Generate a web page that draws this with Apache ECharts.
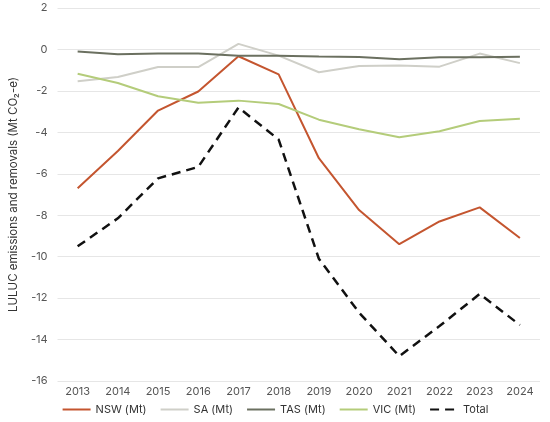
<!DOCTYPE html>
<html>
<head>
<meta charset="utf-8">
<script src="https://cdn.jsdelivr.net/npm/echarts@6/dist/echarts.min.js"></script>
<style>
  html, body { margin: 0; padding: 0; background: #fff; }
  #chart { width: 550px; height: 422px; }
</style>
</head>
<body>
<div id="chart"></div>
<script>
var years = ['2013', '2014', '2015', '2016', '2017', '2018', '2019', '2020', '2021', '2022', '2023', '2024'];
var nsw = [-6.7, -4.9, -2.95, -2.03, -0.33, -1.2, -5.25, -7.75, -9.4, -8.3, -7.62, -9.1];
var sa = [-1.53, -1.33, -0.85, -0.85, 0.27, -0.3, -1.1, -0.8, -0.78, -0.83, -0.2, -0.66];
var tas = [-0.1, -0.23, -0.2, -0.19, -0.3, -0.3, -0.34, -0.37, -0.47, -0.38, -0.38, -0.35];
var vic = [-1.17, -1.62, -2.26, -2.57, -2.47, -2.63, -3.39, -3.85, -4.24, -3.95, -3.45, -3.34];
var total = [-9.5, -8.15, -6.22, -5.67, -2.8, -4.35, -10.1, -12.7, -14.8, -13.35, -11.8, -13.3];

var chart = echarts.init(document.getElementById('chart'));

var font = 'Inter, "Open Sans", sans-serif';

function line(name, data, color, dashed) {
    return {
        name: name,
        type: 'line',
        data: data,
        symbol: 'none',
        smooth: false,
        lineStyle: {
            color: color,
            width: dashed ? 2.5 : 2,
            type: dashed ? [9, 6] : 'solid'
        },
        itemStyle: { color: color }
    };
}

var option = {
    animation: false,
    grid: { left: 44, right: 10, top: 8, bottom: 41 },
    legend: {
        bottom: 2,
        itemWidth: 28,
        itemHeight: 10,
        itemGap: 13,
        itemStyle: { opacity: 0 },
        textStyle: { color: '#333', fontSize: 11, fontFamily: font },
        data: ['NSW (Mt)', 'SA (Mt)', 'TAS (Mt)', 'VIC (Mt)', 'Total']
    },
    xAxis: {
        type: 'category',
        data: years,
        boundaryGap: true,
        axisLine: { show: false },
        axisTick: { show: false },
        axisLabel: { color: '#555', fontSize: 11, fontFamily: font, margin: 5 }
    },
    yAxis: {
        type: 'value',
        min: -16,
        max: 2,
        interval: 2,
        name: 'LULUC emissions and removals (Mt CO₂-e)',
        nameLocation: 'middle',
        nameGap: 31,
        nameTextStyle: { color: '#333', fontSize: 11.5, fontFamily: font },
        axisLine: { show: false },
        axisTick: { show: false },
        axisLabel: { color: '#555', fontSize: 11, fontFamily: font, margin: 10 },
        splitLine: { lineStyle: { color: '#e6e6e6', width: 1 } }
    },
    series: [
        line('NSW (Mt)', nsw, '#c4552f'),
        line('SA (Mt)', sa, '#cfcfc8'),
        line('TAS (Mt)', tas, '#6b7060'),
        line('VIC (Mt)', vic, '#b4cc7a'),
        line('Total', total, '#111111', true)
    ]
};

chart.setOption(option);
</script>
</body>
</html>
